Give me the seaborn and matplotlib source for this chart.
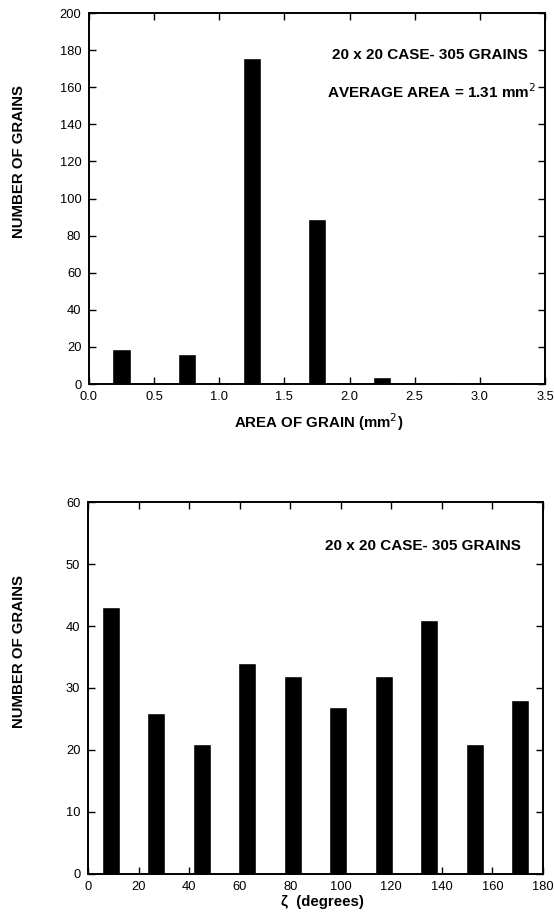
import numpy as np
import pandas as pd
import matplotlib
matplotlib.use("Agg")
import matplotlib.pyplot as plt
import seaborn as sns

# grain area histogram (bin centres in mm^2, counts)
area_centres = [0.25, 0.75, 1.25, 1.75, 2.25, 2.75]
area_counts = [19, 16, 176, 89, 4, 1]

# orientation histogram (bin centres in degrees, counts)
zeta_centres = [9, 27, 45, 63, 81, 99, 117, 135, 153, 171]
zeta_counts = [43, 26, 21, 34, 32, 27, 32, 41, 21, 28]

sns.set_style("ticks")
plt.rcParams['font.family'] = ['Liberation Sans', 'DejaVu Sans']
for k in ['text.color', 'axes.labelcolor', 'xtick.color', 'ytick.color', 'axes.edgecolor']:
    plt.rcParams[k] = 'black'

fig = plt.figure(figsize=(5.54, 9.22), dpi=100)
ax1 = fig.add_axes([0.1606, 0.5835, 0.8232, 0.4024])
ax2 = fig.add_axes([0.1588, 0.0521, 0.8213, 0.4034])

df1 = pd.DataFrame({"area": area_centres, "n": area_counts})
sns.barplot(data=df1, x="area", y="n", native_scale=True, width=0.28,
            color="black", saturation=1, ax=ax1)

df2 = pd.DataFrame({"zeta": zeta_centres, "n": zeta_counts})
sns.barplot(data=df2, x="zeta", y="n", native_scale=True, width=0.40,
            color="black", saturation=1, ax=ax2)

lab = dict(fontsize=10.8, fontweight="bold")
note = dict(ha="center", va="center", fontsize=11, fontweight="bold")

ax1.set_xlim(0, 3.5)
ax1.set_ylim(0, 200)
ax1.set_xticks(np.arange(0, 3.51, 0.5))
ax1.set_yticks(np.arange(0, 201, 20))
ax1.set_xlabel("AREA OF GRAIN (mm$^2$)", **lab)
ax1.set_ylabel("NUMBER OF GRAINS", **lab)
ax1.xaxis.set_label_coords(0.503, -0.073)
ax1.yaxis.set_label_coords(-0.138, 0.60)
ax1.text(0.748, 0.887, "20 x 20 CASE- 305 GRAINS", transform=ax1.transAxes, **note)
ax1.text(0.752, 0.787, "AVERAGE AREA = 1.31 mm$^2$", transform=ax1.transAxes, **note)

ax2.set_xlim(0, 180)
ax2.set_ylim(0, 60)
ax2.set_xticks(np.arange(0, 181, 20))
ax2.set_yticks(np.arange(0, 61, 10))
ax2.set_xlabel("\u03b6  (degrees)", **lab)
ax2.set_ylabel("NUMBER OF GRAINS", **lab)
ax2.xaxis.set_label_coords(0.515, -0.056)
ax2.yaxis.set_label_coords(-0.136, 0.597)
ax2.text(0.737, 0.882, "20 x 20 CASE- 305 GRAINS", transform=ax2.transAxes, **note)

for ax in (ax1, ax2):
    ax.tick_params(direction="in", top=True, right=True, labelsize=9.3,
                   length=5, width=1)
    ax.tick_params(axis="x", pad=5)
    ax.tick_params(axis="y", pad=5.5)
    for s in ax.spines.values():
        s.set_linewidth(1.4)
        s.set_visible(True)
    ax.set_facecolor("white")

fig.savefig("out.png", dpi=100)
